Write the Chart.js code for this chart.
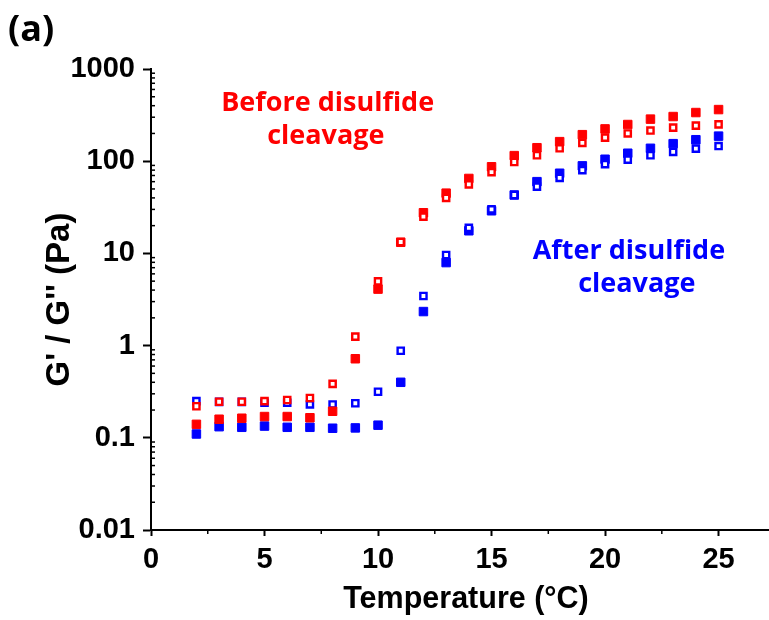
<!DOCTYPE html>
<html>
<head>
<meta charset="utf-8">
<script src="https://cdn.jsdelivr.net/npm/chart.js@4.4.1/dist/chart.umd.min.js"></script>
<style>
  html, body { margin: 0; padding: 0; background: #fff; overflow: hidden; }
  #wrap { width: 769px; height: 620px; overflow: hidden; }
</style>
</head>
<body>
<div id="wrap"><canvas id="rheoChart" width="781" height="620"></canvas></div>
<script>
// Temperature (°C)
const temps = [2, 3, 4, 5, 6, 7, 8, 9, 10, 11, 12, 13, 14, 15, 16, 17, 18, 19, 20, 21, 22, 23, 24, 25];

// Before disulfide cleavage (red)
const beforeG1 = [0.14, 0.159, 0.163, 0.17, 0.17, 0.165, 0.194, 0.72, 4.1, 13.2, 27.6, 45, 65, 87, 115, 140, 163, 194, 224, 250, 286, 305, 337, 363];
const beforeG2 = [0.22, 0.246, 0.246, 0.25, 0.257, 0.27, 0.385, 1.25, 4.97, 13.3, 25, 40, 56, 76, 98, 116, 138, 158, 180, 200, 215, 231, 243, 251];

// After disulfide cleavage (blue)
const afterG1 = [0.11, 0.132, 0.13, 0.134, 0.13, 0.13, 0.127, 0.128, 0.137, 0.40, 2.34, 7.95, 17.6, 29, 43, 60, 74, 89, 105, 122, 138, 155, 171, 187];
const afterG2 = [0.25, 0.245, 0.245, 0.24, 0.24, 0.23, 0.23, 0.237, 0.316, 0.88, 3.45, 9.6, 18.9, 30, 43, 53, 66, 80, 93, 104, 116, 126, 137, 146];

// Axis ticks
const xTicks = [0, 5, 10, 15, 20, 25];
const yTicks = [0.01, 0.1, 1, 10, 100, 1000];

const RED = '#ff0000';
const BLUE = '#0000ff';

function toPoints(vals) {
    return temps.map((t, i) => ({ x: t, y: vals[i] }));
}

function filledSet(vals, color) {
    return {
        data: toPoints(vals),
        pointStyle: 'rect',
        pointRadius: 6,
        borderWidth: 1,
        borderColor: color,
        backgroundColor: color,
        showLine: false
    };
}

function openSet(vals, color) {
    return {
        data: toPoints(vals),
        pointStyle: 'rect',
        pointRadius: 4.4,
        borderWidth: 2.4,
        borderColor: color,
        backgroundColor: '#ffffff',
        showLine: false
    };
}

// minor ticks + annotations
const extras = {
    id: 'extras',
    afterDraw(chart) {
        const ctx = chart.ctx;
        const xs = chart.scales.x;
        const ys = chart.scales.y;
        const area = chart.chartArea;
        ctx.save();
        ctx.strokeStyle = '#000';
        ctx.lineWidth = 1.5;
        // x minor ticks (outside)
        for (let v = 2.5; v < xs.max; v += 5) {
            const px = xs.getPixelForValue(v);
            ctx.beginPath();
            ctx.moveTo(px, area.bottom);
            ctx.lineTo(px, area.bottom + 4);
            ctx.stroke();
        }
        // y minor ticks (inside)
        for (let d = -2; d < 3; d++) {
            for (let k = 2; k < 10; k++) {
                const py = ys.getPixelForValue(k * Math.pow(10, d));
                ctx.beginPath();
                ctx.moveTo(area.left, py);
                ctx.lineTo(area.left + 4, py);
                ctx.stroke();
            }
        }
        // annotations
        ctx.textAlign = 'center';
        ctx.textBaseline = 'alphabetic';
        ctx.font = 'bold 27px "Open Sans"';
        ctx.fillStyle = RED;
        ctx.fillText('Before disulfide', xs.getPixelForValue(7.78), ys.getPixelForValue(349));
        ctx.fillText('cleavage', xs.getPixelForValue(7.7), ys.getPixelForValue(153));
        ctx.fillStyle = BLUE;
        ctx.fillText('After disulfide', xs.getPixelForValue(21.05), ys.getPixelForValue(8.6));
        ctx.fillText('cleavage', xs.getPixelForValue(21.4), ys.getPixelForValue(3.77));
        // panel label
        ctx.fillStyle = '#000';
        ctx.textAlign = 'left';
        ctx.font = 'bold 36px "Open Sans"';
        ctx.fillText('(a)', 8, 41);
        ctx.restore();
    }
};

const ctx = document.getElementById('rheoChart').getContext('2d');
const rheoChart = new Chart(ctx, {
    type: 'scatter',
    data: {
        // first dataset is drawn on top
        datasets: [
            openSet(beforeG2, RED),
            filledSet(beforeG1, RED),
            openSet(afterG2, BLUE),
            filledSet(afterG1, BLUE)
        ]
    },
    options: {
        responsive: false,
        animation: false,
        devicePixelRatio: 1,
        layout: { autoPadding: false, padding: { top: 69, right: 0, bottom: 0, left: 0 } },
        plugins: {
            legend: { display: false },
            tooltip: { enabled: false }
        },
        scales: {
            x: {
                type: 'linear',
                min: 0,
                max: 27.75,
                afterBuildTicks: scale => { scale.ticks = xTicks.map(v => ({ value: v })); },
                afterFit: scale => { scale.height = 90; },
                border: { display: true, width: 2, color: '#000' },
                grid: { drawOnChartArea: false, tickLength: 6, tickWidth: 2, tickColor: '#000' },
                ticks: {
                    color: '#000',
                    padding: 7,
                    font: { family: 'Liberation Sans', weight: 'bold', size: 29 }
                },
                title: {
                    display: true,
                    text: 'Temperature (°C)',
                    color: '#000',
                    padding: { top: 0, bottom: 2 },
                    font: { family: 'Liberation Sans', weight: 'bold', size: 30.5 }
                }
            },
            y: {
                type: 'logarithmic',
                min: 0.01,
                max: 1000,
                afterBuildTicks: scale => { scale.ticks = yTicks.map(v => ({ value: v, major: true })); },
                afterFit: scale => { scale.width = 151; },
                border: { display: true, width: 2, color: '#000' },
                grid: { drawOnChartArea: false, tickLength: 8, tickWidth: 2, tickColor: '#000' },
                ticks: {
                    color: '#000',
                    padding: 8,
                    autoSkip: false,
                    font: { family: 'Liberation Sans', weight: 'bold', size: 29 },
                    callback: v => String(v)
                },
                title: {
                    display: true,
                    text: 'G\' / G\'\' (Pa)',
                    color: '#000',
                    padding: { top: 40, bottom: 0 },
                    font: { family: 'Liberation Sans', weight: 'bold', size: 33 }
                }
            }
        }
    },
    plugins: [extras]
});
</script>
</body>
</html>
